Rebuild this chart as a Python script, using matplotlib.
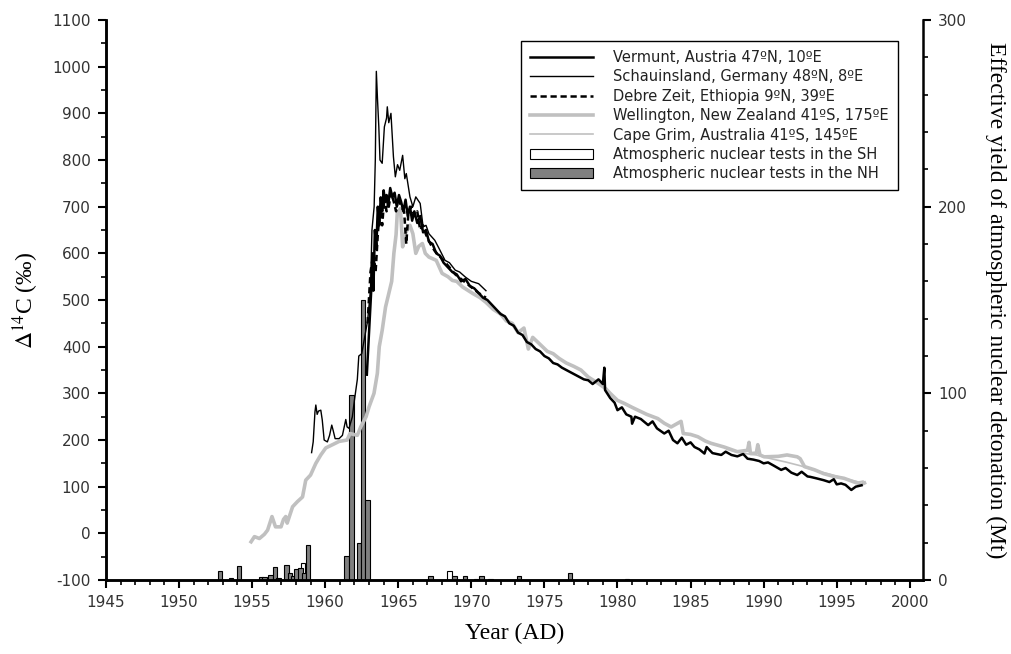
import matplotlib.pyplot as plt
import numpy as np
from matplotlib.ticker import MultipleLocator
from matplotlib.patches import Patch
from matplotlib.lines import Line2D

plt.rcParams['axes.unicode_minus'] = False
plt.rcParams['mathtext.fontset'] = 'stix'

# Vermunt, Austria (thick black)
verm_yr = [1962.85, 1963.0, 1963.15, 1963.25, 1963.3, 1963.4, 1963.5, 1963.6, 1963.7, 1963.8,
           1963.9, 1964.0, 1964.1, 1964.2, 1964.3, 1964.45, 1964.6, 1964.75, 1964.9, 1965.05,
           1965.2, 1965.35, 1965.5, 1965.65, 1965.8, 1965.95, 1966.1, 1966.3, 1966.5, 1966.7,
           1966.9, 1967.1, 1967.35, 1967.6, 1967.85, 1968.1, 1968.4, 1968.7, 1969.0, 1969.3,
           1969.6, 1969.9, 1970.2, 1970.5, 1970.8, 1971.1, 1971.4, 1971.7, 1972.0, 1972.3,
           1972.6, 1972.9, 1973.2, 1973.5, 1973.8, 1974.1, 1974.4, 1974.7, 1975.0, 1975.3,
           1975.6, 1975.9, 1976.2, 1976.5, 1976.8, 1977.1, 1977.4, 1977.7, 1978.0, 1978.3,
           1978.7, 1979.0, 1979.1, 1979.15, 1979.5, 1979.8, 1980.0, 1980.3, 1980.6, 1980.95,
           1981.0, 1981.2, 1981.6, 1982.1, 1982.4, 1982.7, 1983.2, 1983.5, 1983.8, 1984.1,
           1984.4, 1984.7, 1985.0, 1985.27, 1985.6, 1985.95, 1986.1, 1986.5, 1987.1, 1987.4,
           1987.8, 1988.2, 1988.6, 1988.9, 1989.3, 1989.7, 1990.0, 1990.3, 1990.7, 1991.2,
           1991.5, 1991.9, 1992.3, 1992.6, 1993.0, 1993.2, 1993.6, 1994.1, 1994.5, 1994.8,
           1995.0, 1995.3, 1995.6, 1996.0, 1996.3, 1996.7]
verm_c14 = [340, 430, 520, 600, 520, 650, 610, 700, 660, 720,
            690, 735, 710, 725, 700, 740, 720, 730, 700, 725,
            710, 690, 715, 680, 700, 670, 690, 665, 680, 645,
            650, 625, 620, 600, 595, 580, 570, 560, 555, 540,
            545, 530, 525, 515, 505, 500, 490, 480, 470, 465,
            450, 445, 430, 425, 410, 405, 395, 390, 380, 375,
            365, 362, 355, 350, 345, 340, 335, 330, 328, 320,
            330, 320, 355, 307, 290, 280, 264, 270, 255, 250,
            235, 250, 245, 232, 240, 225, 214, 220, 200, 193,
            205, 190, 195, 185, 180, 171, 185, 172, 168, 175,
            168, 165, 170, 160, 158, 155, 150, 152, 145, 136,
            140, 130, 125, 132, 122, 121, 118, 114, 110, 116,
            105, 107, 104, 93, 100, 103]

# Schauinsland, Germany (thin black)
scha_yr = [1959.07, 1959.18, 1959.3, 1959.36, 1959.45, 1959.54, 1959.7, 1959.8, 1959.93, 1960.15,
           1960.3, 1960.45, 1960.55, 1960.68, 1960.95, 1961.18, 1961.41, 1961.5, 1961.63, 1961.86,
           1962.0, 1962.2, 1962.3, 1962.5, 1962.7, 1962.9, 1963.1, 1963.2, 1963.35, 1963.43,
           1963.5, 1963.58, 1963.67, 1963.75, 1963.9, 1964.05, 1964.2, 1964.25, 1964.35, 1964.5,
           1964.67, 1964.8, 1964.95, 1965.1, 1965.3, 1965.45, 1965.55, 1965.8, 1966.0, 1966.2,
           1966.5, 1966.7, 1966.9, 1967.1, 1967.5, 1967.8, 1968.2, 1968.5, 1968.9, 1969.2,
           1969.6, 1970.0, 1970.5, 1971.0]
scha_c14 = [173, 196, 260, 275, 255, 262, 264, 243, 200, 196,
            210, 232, 220, 203, 203, 210, 244, 228, 225, 250,
            285, 330, 380, 385, 420, 455, 520, 650, 700, 800,
            990, 930, 871, 800, 793, 871, 890, 914, 880, 900,
            807, 764, 790, 778, 810, 760, 771, 721, 700, 721,
            707, 657, 660, 642, 628, 610, 585, 580, 564, 560,
            549, 540, 535, 520]

# Debre Zeit, Ethiopia (dashed)
debr_yr = [1962.9, 1963.1, 1963.3, 1963.45, 1963.6, 1963.75, 1963.9, 1964.05, 1964.2, 1964.35,
           1964.5, 1964.7, 1964.85, 1965.0, 1965.2, 1965.4, 1965.55, 1965.7, 1965.9, 1966.1,
           1966.3, 1966.5, 1966.7, 1966.9, 1967.2, 1967.5, 1967.8, 1968.1, 1968.5, 1968.9,
           1969.3, 1969.7, 1970.1, 1970.5, 1971.0]
debr_c14 = [450, 560, 600, 560, 640, 700, 660, 720, 690, 700,
            730, 710, 690, 720, 700, 690, 620, 690, 700, 680,
            690, 650, 660, 640, 620, 605, 595, 585, 570, 555,
            545, 535, 525, 515, 505]

# Wellington, New Zealand (thick grey)
well_yr = [1954.93, 1955.16, 1955.5, 1955.84, 1956.06, 1956.36, 1956.6, 1956.98, 1957.15, 1957.3,
           1957.4, 1957.77, 1958.1, 1958.45, 1958.67, 1959.0, 1959.36, 1959.7, 1960.04, 1960.5,
           1960.95, 1961.5, 1961.7, 1962.2, 1962.43, 1962.8, 1963.0, 1963.34, 1963.57, 1963.7,
           1963.9, 1964.13, 1964.36, 1964.55, 1964.7, 1964.85, 1964.93, 1965.15, 1965.3, 1965.45,
           1965.6, 1965.8, 1966.0, 1966.2, 1966.4, 1966.65, 1966.85, 1967.1, 1967.6, 1968.0,
           1968.4, 1968.7, 1969.0, 1969.4, 1969.8, 1970.1, 1970.6, 1971.0, 1971.5, 1972.0,
           1972.4, 1972.8, 1973.2, 1973.6, 1973.9, 1974.2, 1974.7, 1975.2, 1975.6, 1976.0,
           1976.5, 1977.0, 1977.5, 1978.0, 1978.5, 1978.7, 1979.2, 1979.5, 1980.0, 1980.5,
           1981.0, 1981.4, 1982.0, 1982.76, 1983.2, 1983.67, 1984.35, 1984.5, 1985.0, 1985.5,
           1986.0, 1986.4, 1987.3, 1988.2, 1988.9, 1989.0, 1989.1, 1989.5, 1989.6, 1989.75,
           1990.04, 1991.0, 1991.6, 1992.3, 1992.5, 1992.8, 1993.5, 1994.1, 1994.8, 1995.5,
           1996.2, 1996.7, 1996.9]
well_c14 = [-18, -7, -11, -2, 7, 36, 14, 14, 30, 36,
            22, 57, 68, 78, 114, 125, 150, 168, 183, 190,
            197, 200, 214, 210, 228, 250, 271, 300, 343, 400,
            435, 485, 515, 540, 600, 640, 685, 696, 614, 640,
            650, 660, 642, 600, 615, 621, 600, 592, 585, 557,
            550, 542, 540, 528, 520, 514, 505, 495, 480, 470,
            455, 450, 430, 440, 395, 420, 405, 390, 385, 375,
            365, 358, 350, 335, 325, 321, 310, 300, 285, 278,
            270, 264, 255, 246, 236, 228, 240, 214, 212, 207,
            198, 193, 185, 175, 178, 195, 171, 172, 190, 168,
            164, 165, 168, 164, 160, 143, 136, 128, 122, 118,
            110, 105, 108]

# Cape Grim, Australia (thin grey)
cape_yr = [1987.5, 1988.5, 1989.5, 1990.5, 1991.5, 1992.5, 1993.5, 1994.5, 1995.5, 1996.5, 1996.8]
cape_c14 = [180, 172, 168, 160, 153, 145, 135, 127, 118, 110, 112]

# atmospheric tests, effective yield (Mt)
nh_yr = [1952.8, 1953.55, 1954.1, 1955.6, 1955.85, 1956.25, 1956.55, 1956.8, 1957.35, 1957.6,
         1957.8, 1958.05, 1958.3, 1958.55, 1958.83, 1961.45, 1961.8, 1962.3, 1962.6, 1962.9,
         1967.2, 1968.85, 1969.55, 1970.7, 1973.25, 1976.75, 1980.65]
nh_mt = [5, 1, 7.5, 1.5, 1.5, 2.7, 7, 1, 8, 3.6,
         2, 6, 6.5, 4, 19, 13, 99, 20, 150, 43,
         2, 2, 2, 2, 2, 3.6, 0.7]
sh_yr = [1958.5, 1968.5, 1970.3, 1971.3]
sh_mt = [9, 5, 0.6, 0.7]

fig = plt.figure(figsize=(10.11, 6.54), dpi=100)
ax = fig.add_axes([0.1048, 0.1131, 0.8081, 0.8563])
ax2 = ax.twinx()
ax.set_zorder(ax2.get_zorder() + 1)
ax.patch.set_visible(False)

ax2.bar(sh_yr, sh_mt, width=0.3, color='white', edgecolor='black', linewidth=0.8)
ax2.bar(nh_yr, nh_mt, width=0.3, color='#808080', edgecolor='black', linewidth=0.8)

grey = '#c0c0c0'
ax.plot(well_yr, well_c14, color=grey, lw=2.6)
ax.plot(cape_yr, cape_c14, color=grey, lw=1.2)
ax.plot(scha_yr, scha_c14, color='black', lw=1.0)
ax.plot(verm_yr, verm_c14, color='black', lw=1.8)
ax.plot(debr_yr, debr_c14, color='black', lw=1.8, linestyle=(0, (2.5, 1.5)))

ax.set_xlim(1945, 2000.9)
ax.set_ylim(-100, 1100)
ax2.set_ylim(0, 300)

ax.xaxis.set_major_locator(MultipleLocator(5))
ax.xaxis.set_minor_locator(MultipleLocator(1))
ax.yaxis.set_major_locator(MultipleLocator(100))
ax.yaxis.set_minor_locator(MultipleLocator(50))
ax2.yaxis.set_major_locator(MultipleLocator(100))
ax2.yaxis.set_minor_locator(MultipleLocator(20))

tickfont = 'DejaVu Sans'
for a in (ax, ax2):
    a.tick_params(which='major', direction='out', length=6, width=1.5, labelsize=11,
                  labelcolor='#333333', pad=5)
    a.tick_params(which='minor', direction='out', length=3.5, width=1.2)
    for lab in a.get_xticklabels() + a.get_yticklabels():
        lab.set_family(tickfont)
    for s in a.spines.values():
        s.set_linewidth(1.8)
    a.spines['top'].set_visible(False)
ax.spines['right'].set_visible(False)

serif = 'Liberation Serif'
ax.set_xlabel('Year (AD)', fontsize=17, family=serif, labelpad=9)
ax.set_ylabel(r'$\Delta^{14}$C (‰)', fontsize=17, family=serif, labelpad=8)
ax2.set_ylabel('Effective yield of atmospheric nuclear detonation (Mt)', fontsize=17,
               family=serif, rotation=270, labelpad=28)

handles = [Line2D([], [], color='black', lw=1.8),
           Line2D([], [], color='black', lw=1.0),
           Line2D([], [], color='black', lw=1.8, linestyle=(0, (2.5, 1.5))),
           Line2D([], [], color=grey, lw=2.6),
           Line2D([], [], color=grey, lw=1.2),
           Patch(facecolor='white', edgecolor='black', linewidth=0.8),
           Patch(facecolor='#808080', edgecolor='black', linewidth=0.8)]
labels = ['Vermunt, Austria 47ºN, 10ºE',
          'Schauinsland, Germany 48ºN, 8ºE',
          'Debre Zeit, Ethiopia 9ºN, 39ºE',
          'Wellington, New Zealand 41ºS, 175ºE',
          'Cape Grim, Australia 41ºS, 145ºE',
          'Atmospheric nuclear tests in the SH',
          'Atmospheric nuclear tests in the NH']
leg = ax.legend(handles, labels, loc='upper right', bbox_to_anchor=(0.978, 0.975),
                prop={'family': tickfont, 'size': 10.5}, frameon=True, fancybox=False,
                edgecolor='black', framealpha=1, handlelength=4.3, handletextpad=1.4,
                labelspacing=0.3, borderpad=0.6)
leg.get_frame().set_linewidth(1.0)
for t in leg.get_texts():
    t.set_color('#222222')

fig.savefig('out.png', dpi=100)
